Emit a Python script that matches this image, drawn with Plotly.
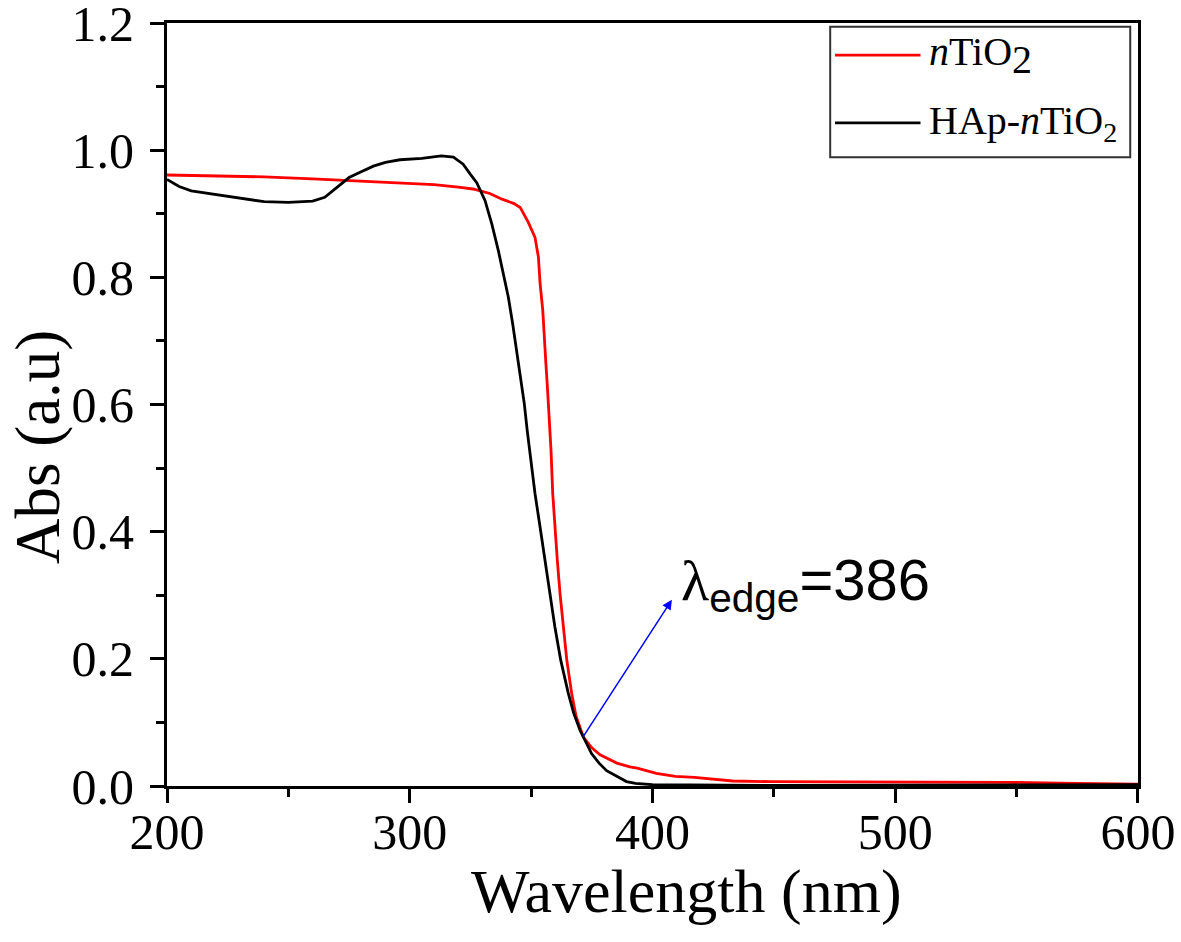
import plotly.graph_objects as go

# nTiO2 (red)
wl_tio2 = [200, 220, 240, 260, 280, 300, 310, 320, 326, 333, 338, 343, 345.5, 348.8,
           351.6, 353, 353.7, 354.8, 355.3, 356.1, 356.8, 357.5, 358.2, 358.9, 359.8,
           360.8, 361.9, 363.3, 364.7, 366.7, 368.5, 371.5, 375, 378.4, 385.3, 390.7,
           393.7, 401.6, 409.4, 417.3, 425.2, 433, 448.7, 480, 511.6, 546, 574.5, 600]
abs_tio2 = [0.961, 0.960, 0.958, 0.955, 0.951, 0.947, 0.946, 0.942, 0.939, 0.932, 0.923,
            0.916, 0.910, 0.887, 0.863, 0.832, 0.790, 0.748, 0.706, 0.664, 0.622, 0.580,
            0.528, 0.460, 0.407, 0.355, 0.303, 0.250, 0.198, 0.146, 0.110, 0.077, 0.060,
            0.049, 0.036, 0.030, 0.028, 0.020, 0.015, 0.0136, 0.0105, 0.0079, 0.0068,
            0.0068, 0.0063, 0.0058, 0.004, 0.003]

# HAp-nTiO2 (black)
wl_hap = [200, 205, 210, 220, 230, 240, 250, 260, 265, 270, 275, 280, 285, 290, 296,
          305, 313, 318, 322, 325, 327.6, 331, 333.8, 336.5, 338.5, 340.6, 342.4,
          344.1, 345.7, 347.2, 348.4, 349.8, 351.6, 353.7, 355.7, 357.8, 359.8, 362.2,
          365.3, 367.5, 370.1, 374.9, 378, 381.1, 385.8, 389.3, 393, 400, 450, 500,
          550, 600]
abs_hap = [0.954, 0.943, 0.936, 0.930, 0.924, 0.919, 0.918, 0.920, 0.926, 0.942, 0.957,
           0.966, 0.975, 0.981, 0.985, 0.987, 0.991, 0.989, 0.978, 0.962, 0.949, 0.921,
           0.884, 0.842, 0.805, 0.769, 0.727, 0.685, 0.643, 0.601, 0.559, 0.512, 0.460,
           0.407, 0.355, 0.303, 0.250, 0.198, 0.146, 0.115, 0.088, 0.051, 0.036, 0.024,
           0.014, 0.007, 0.004, 0.002, 0.001, 0.001, 0.001, 0.002]

# arrow: tail on curve, head toward label
arrow_tail = (371, 0.075)
arrow_head = (408, 0.293)

serif = "Liberation Serif"

fig = go.Figure()
fig.add_trace(go.Scatter(x=wl_tio2, y=abs_tio2, mode="lines", name="nTiO2",
                         line=dict(color="#ff0000", width=2.8), showlegend=False))
fig.add_trace(go.Scatter(x=wl_hap, y=abs_hap, mode="lines", name="HAp-nTiO2",
                         line=dict(color="#000000", width=2.8), showlegend=False))

axis_common = dict(showline=True, linecolor="black", linewidth=3, mirror=True,
                   ticks="outside", tickwidth=3, ticklen=14, tickcolor="black",
                   showgrid=False, zeroline=False, tickmode="linear",
                   ticklabeloverflow="allow", automargin=False,
                   tickfont=dict(family=serif, size=50, color="black"))

fig.update_xaxes(range=[200, 600.01], tick0=200, dtick=100, ticklabelstandoff=-14,
                 minor=dict(dtick=50, tick0=200, ticks="outside", ticklen=8, tickwidth=3,
                            tickcolor="black"),
                 **axis_common)
fig.update_yaxes(range=[0, 1.2001], tick0=0, dtick=0.2, tickformat=".1f",
                 ticklabelstandoff=6,
                 minor=dict(dtick=0.1, tick0=0, ticks="outside", ticklen=8, tickwidth=3,
                            tickcolor="black"),
                 **axis_common)

# axis titles
fig.add_annotation(x=0.5355, y=-0.138, xref="paper", yref="paper", xanchor="center",
                   yanchor="middle", text="Wavelength (nm)", showarrow=False,
                   font=dict(family=serif, size=62, color="black"))
fig.add_annotation(x=-0.133, y=0.444, xref="paper", yref="paper", xanchor="center",
                   yanchor="middle", text="Abs (a.u)", showarrow=False, textangle=-90,
                   font=dict(family=serif, size=63, color="black"))

fig.add_annotation(x=arrow_head[0], y=arrow_head[1], ax=arrow_tail[0], ay=arrow_tail[1],
                   xref="x", yref="y", axref="x", ayref="y", text="",
                   showarrow=True, arrowhead=2, arrowsize=1.3, arrowwidth=1.5,
                   arrowcolor="#0000ff")
fig.add_annotation(x=411, y=0.318, xref="x", yref="y", xanchor="left", yanchor="middle",
                   text='<span style="font-family:Liberation Serif">λ</span><sub>edge</sub>=386',
                   showarrow=False, font=dict(family="Liberation Sans", size=58, color="black"))

# manual legend
leg_x0, leg_x1, leg_y0, leg_y1 = 0.683, 0.992, 0.824, 0.995
fig.add_shape(type="rect", xref="paper", yref="paper", x0=leg_x0, x1=leg_x1, y0=leg_y0, y1=leg_y1,
              line=dict(color="#333333", width=2), fillcolor="white")
legend_items = [('<i>n</i>TiO<sub><span style="font-size:40px">2</span></sub>', "#ff0000", 0.958),
                ("HAp-<i>n</i>TiO<sub>2</sub>", "#000000", 0.869)]
for label, col, yy in legend_items:
    fig.add_shape(type="line", xref="paper", yref="paper", x0=0.688, x1=0.776, y0=yy, y1=yy,
                  line=dict(color=col, width=2.8))
    fig.add_annotation(x=0.783, y=yy, xref="paper", yref="paper", xanchor="left",
                       yanchor="middle", text=label, showarrow=False,
                       font=dict(family=serif, size=40, color="black"))

fig.update_layout(width=1181, height=942, plot_bgcolor="white", paper_bgcolor="white",
                  margin=dict(l=167, r=43, t=23, b=156, autoexpand=False))

# remove the page's default body margin so the figure sits at the window's corner
fig.write_html("out.html", config={"displayModeBar": False},
               post_script="document.body.style.margin='0px';document.body.style.overflow='hidden';")
